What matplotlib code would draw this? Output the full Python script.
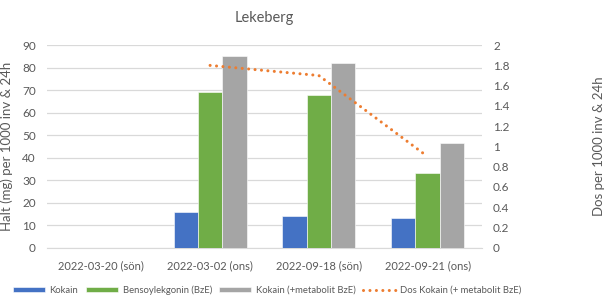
import matplotlib.pyplot as plt
import numpy as np

plt.rcParams['font.family'] = ['Lato', 'DejaVu Sans']

categories = ["2022-03-20 (sön)", "2022-03-02 (ons)", "2022-09-18 (sön)", "2022-09-21 (ons)"]
kokain = [np.nan, 16.0, 14.2, 13.3]
bze = [np.nan, 69.3, 67.8, 33.0]
kokain_met = [np.nan, 85.2, 82.2, 46.6]
dos = [np.nan, 1.8, 1.7, 0.9]

blue = "#4472C4"
green = "#70AD47"
grey = "#A5A5A5"
orange = "#ED7D31"
txt = "#595959"

fig = plt.figure(figsize=(6.07, 2.99), dpi=100)
ax = fig.add_axes([0.0774, 0.1716, 0.7166, 0.6774])
ax2 = ax.twinx()

x = np.arange(len(categories))
w = 0.224
b1 = ax.bar(x - w, kokain, w, color=blue, edgecolor="white", linewidth=0.4, label="Kokain", zorder=3)
b2 = ax.bar(x, bze, w, color=green, edgecolor="white", linewidth=0.4, label="Bensoylekgonin (BzE)", zorder=3)
b3 = ax.bar(x + w, kokain_met, w, color=grey, edgecolor="white", linewidth=0.4, label="Kokain (+metabolit BzE)", zorder=3)
l1, = ax2.plot(x, dos, color=orange, linewidth=2.2, linestyle=(0, (0.01, 2.1)),
               dash_capstyle="round", label="Dos Kokain (+ metabolit BzE)")

ax.set_xlim(-0.5, 3.5)
ax.set_ylim(0, 90)
ax.set_yticks(range(0, 91, 10))
ax2.set_ylim(0, 2)
ax2.set_yticks(np.arange(0, 2.01, 0.2))
ax2.set_yticklabels(["0", "0.2", "0.4", "0.6", "0.8", "1", "1.2", "1.4", "1.6", "1.8", "2"])

ax.set_xticks(x)
ax.set_xticklabels(categories)
ax.grid(axis="y", color="#D9D9D9", linewidth=0.9, zorder=0)
ax.set_axisbelow(True)

for a in (ax, ax2):
    for s in a.spines.values():
        s.set_visible(False)
    a.tick_params(length=0, labelsize=8.5, colors=txt)
ax.spines["bottom"].set_visible(True)
ax.spines["bottom"].set_color("#D9D9D9")
ax.tick_params(axis="x", pad=9, labelsize=8)
ax.tick_params(axis="y", pad=8)
ax2.tick_params(axis="y", pad=8)

ax.set_ylabel("Halt (mg) per 1000 inv & 24h", fontsize=9.5, color=txt)
ax.yaxis.set_label_coords(-0.078, 0.5)
ax2.set_ylabel("Dos per 1000 inv & 24h", fontsize=9.5, color=txt)
ax2.yaxis.set_label_coords(1.255, 0.5)
ax.set_title("Lekeberg", fontsize=10.5, color=txt, pad=17)

fig.legend([b1, b2, b3, l1], [b1.get_label(), b2.get_label(), b3.get_label(), l1.get_label()],
           loc="lower center", bbox_to_anchor=(0.44, -0.015), ncol=4, frameon=False,
           fontsize=6.8, labelcolor=txt, handlelength=3.4, handleheight=0.4,
           handletextpad=0.5, columnspacing=0.8)

fig.savefig("out.png", dpi=100)
